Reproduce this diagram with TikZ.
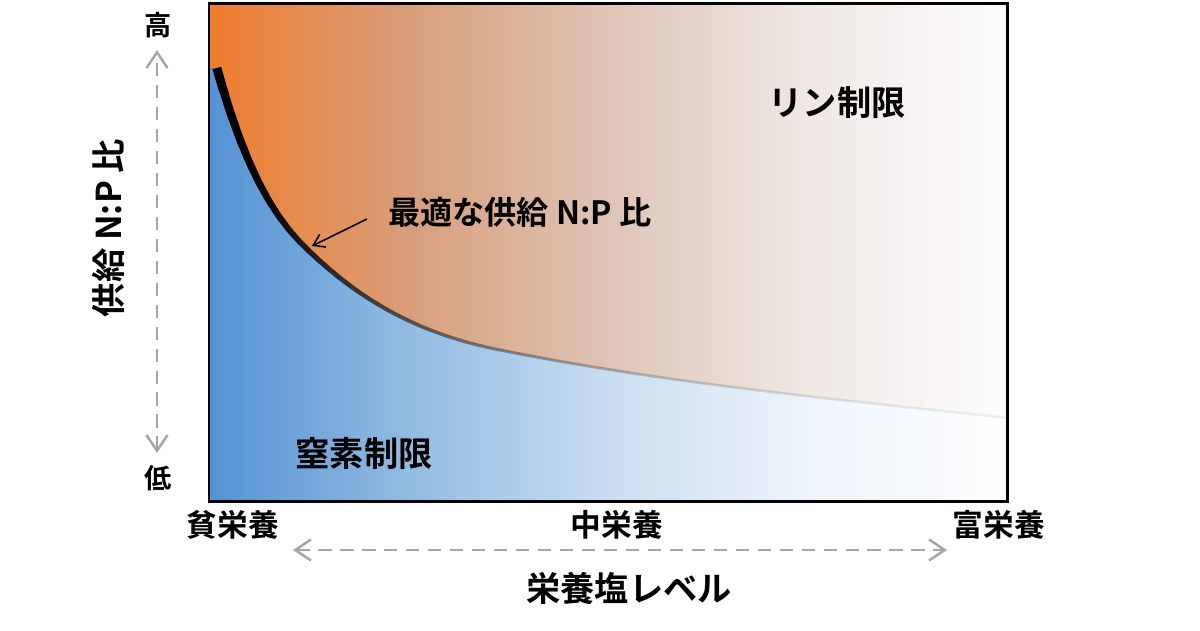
\documentclass[tikz,border=0pt]{standalone}
\usepackage{fontspec}
\setmainfont{Noto Sans CJK JP}[BoldFont={Noto Sans CJK JP Bold}]
\usetikzlibrary{arrows.meta}
\definecolor{orA}{RGB}{240,124,44}
\definecolor{orB}{RGB}{216,158,122}
\definecolor{orC}{RGB}{223,196,182}
\definecolor{orD}{RGB}{239,232,229}
\definecolor{orE}{RGB}{253,252,252}
\definecolor{blA}{RGB}{84,146,212}
\definecolor{blB}{RGB}{146,187,226}
\definecolor{blC}{RGB}{201,221,241}
\definecolor{blD}{RGB}{238,244,251}
\definecolor{blE}{RGB}{253,254,255}
\definecolor{axisgray}{RGB}{165,165,165}
\pgfdeclarehorizontalshading{orangefade}{100bp}{color(0bp)=(orA); color(25bp)=(orA); color(37.5bp)=(orB); color(50bp)=(orC); color(62.5bp)=(orD); color(75bp)=(orE); color(100bp)=(orE)}
\pgfdeclarehorizontalshading{bluefade}{100bp}{color(0bp)=(blA); color(25bp)=(blA); color(37.5bp)=(blB); color(50bp)=(blC); color(62.5bp)=(blD); color(75bp)=(blE); color(100bp)=(blE)}
\def\npbend{.. controls (245.7,171) and (274.3,216.3) .. (303,245) .. controls (368.7,310.7) and (434.3,336.9) .. (500,350) .. controls (668.7,383.7) and (837.3,399.4) .. (1007,418)}
\tikzset{
  region/.style={font=\bfseries\fontsize{19.5pt}{21pt}\selectfont},
  level/.style={font=\bfseries\fontsize{17.5pt}{19pt}\selectfont},
  tick/.style={font=\bfseries\fontsize{15.5pt}{17pt}\selectfont},
  axisarrow/.style={axisgray, line width=1.4pt, dash pattern=on 7.5pt off 5pt,
    {Straight Barb[length=9pt,width=12pt]}-{Straight Barb[length=9pt,width=12pt]}},
  ptr/.style={line width=0.9pt, -{Straight Barb[length=6pt,width=8pt]}}
}

\begin{document}
\begin{tikzpicture}[x=0.02cm, y=-0.02cm]
  \useasboundingbox (0,0) rectangle (1200,630);
  %%%%% REGIONS %%%%%
  \shade[shading=orangefade] (209,3) rectangle (1007,501);
  \shade[shading=bluefade] (209,501) -- (209,68) -- (217,68) \npbend -- (1007,501) -- cycle;

  %%%%% OPTIMUM LINE %%%%%
  \foreach \i in {0,...,79}{
    \pgfmathsetmacro\xa{209+10*\i}
    \pgfmathsetmacro\u{(\xa+5-209)/800}
    \pgfmathsetmacro\op{min(1,exp(-3.2*(\u-0.06)))}
    \pgfmathsetmacro\wd{(2.5+7*exp(-7*\u))*0.567}
    \begin{scope}
      \clip (\xa,0) rectangle ++(10,630);
      \draw[black, opacity=\op, line width=\wd pt] (217,68) \npbend;
    \end{scope}
  }

  \draw[line width=1.7pt] (209,3) rectangle (1007,501);

  %%%%% LABELS %%%%%
  \node[region] (plim) at (837,103) {リン制限};
  \node[region] (nlim) at (364,453) {窒素制限};
  \node[level, font=\bfseries\fontsize{18.3pt}{20pt}\selectfont] (opt) at (520,212) {最適な供給 N:P 比};
  \coordinate (optstart) at (367,219);
  \coordinate (optend) at (312,246);
  \draw[ptr] (optstart) -- (optend);

  %%%%% AXES %%%%%
  \node[region, rotate=90] (ylab) at (108,228) {供給 N:P 比};
  \node[tick] (hi) at (158,25) {高};
  \node[tick] (lo) at (158,478) {低};
  \coordinate (npHi) at (157,50);
  \coordinate (npLo) at (157,453);
  \draw[axisarrow] (npLo) -- (npHi);

  \node[level] (poor) at (233,525) {貧栄養};
  \node[level] (mid) at (617,525) {中栄養};
  \node[level] (rich) at (999,525) {富栄養};
  \coordinate (lvlL) at (293,550);
  \coordinate (lvlR) at (947,550);
  \draw[axisarrow] (lvlL) -- (lvlR);
  \node[region] (xlab) at (629,588) {栄養塩レベル};
\end{tikzpicture}
\end{document}
